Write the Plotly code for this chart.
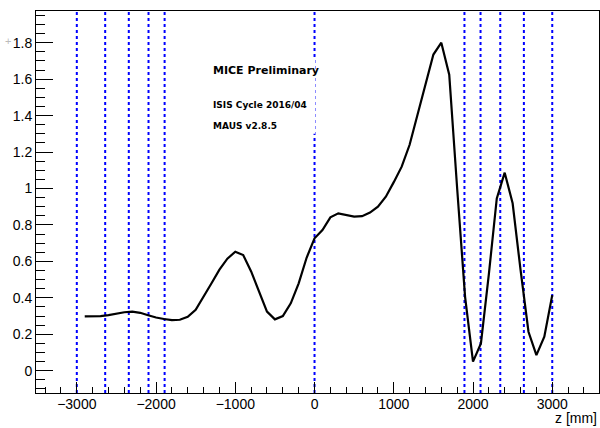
import plotly.graph_objects as go

# Curve data (z in mm, value)
z_vals = [-2900, -2800, -2700, -2600, -2500, -2400, -2300, -2200, -2100, -2000,
          -1900, -1800, -1700, -1600, -1500, -1400, -1300, -1200, -1100, -1000,
          -900, -800, -700, -600, -500, -400, -300, -200, -100, 0,
          100, 200, 300, 400, 500, 600, 700, 800, 900, 1000,
          1100, 1200, 1300, 1400, 1500, 1600, 1700, 1800, 1900, 2000,
          2100, 2200, 2300, 2400, 2500, 2600, 2700, 2800, 2900, 3000]
y_vals = [0.298, 0.298, 0.300, 0.305, 0.313, 0.321, 0.324, 0.318, 0.305, 0.292,
          0.284, 0.278, 0.280, 0.296, 0.335, 0.405, 0.480, 0.555, 0.615, 0.653,
          0.635, 0.545, 0.430, 0.325, 0.282, 0.300, 0.370, 0.480, 0.620, 0.727,
          0.772, 0.842, 0.864, 0.856, 0.846, 0.848, 0.868, 0.900, 0.955, 1.035,
          1.120, 1.240, 1.400, 1.570, 1.735, 1.800, 1.625, 1.000, 0.406, 0.050,
          0.150, 0.530, 0.946, 1.087, 0.919, 0.553, 0.214, 0.086, 0.187, 0.415]

# Positions of the vertical dashed markers (mm)
marker_z = [-3000, -2642, -2344, -2095, -1892, 0, 1892, 2095, 2344, 2642, 3000]

x_tickvals = [-3000, -2000, -1000, 0, 1000, 2000, 3000]
y_tickvals = [0, 0.2, 0.4, 0.6, 0.8, 1.0, 1.2, 1.4, 1.6, 1.8]
y_ticktext = ["0", "0.2", "0.4", "0.6", "0.8", "1", "1.2", "1.4", "1.6", "1.8"]

label_lines = ["MICE Preliminary", "ISIS Cycle 2016/04", "MAUS v2.8.5"]

fig = go.Figure()
fig.add_trace(go.Scatter(x=z_vals, y=y_vals, mode="lines",
                         line=dict(color="black", width=2.2),
                         showlegend=False, hoverinfo="skip"))

shapes = []
for zv in marker_z:
    shapes.append(dict(type="line", xref="x", yref="paper", x0=zv, x1=zv, y0=0, y1=1,
                       line=dict(color="#0000ff", width=2, dash="3px,3px"), layer="below"))
# white text pad covering the line
shapes.append(dict(type="rect", xref="x", yref="y", x0=-1400, x1=8, y0=1.30, y1=1.71,
                   fillcolor="white", line=dict(width=0), layer="below"))

annotations = [
    dict(x=-1310, y=1.647, xref="x", yref="y", text="<b>" + label_lines[0] + "</b>",
         showarrow=False, xanchor="left", yanchor="middle",
         font=dict(family="DejaVu Sans", size=11, color="black")),
    dict(x=-1310, y=1.458, xref="x", yref="y", text="<b>" + label_lines[1] + "</b>",
         showarrow=False, xanchor="left", yanchor="middle",
         font=dict(family="DejaVu Sans", size=9, color="black")),
    dict(x=-1310, y=1.343, xref="x", yref="y", text="<b>" + label_lines[2] + "</b>",
         showarrow=False, xanchor="left", yanchor="middle",
         font=dict(family="DejaVu Sans", size=9, color="black")),
    dict(x=1, y=0, xref="paper", yref="paper", text="z [mm]", showarrow=False,
         xanchor="right", yanchor="bottom", xshift=-1, yshift=-34, borderpad=0,
         font=dict(family="Liberation Sans", size=14, color="black")),
    dict(x=0, y=1, xref="paper", yref="paper", text="+", showarrow=False,
         xanchor="center", yanchor="middle", xshift=-28, yshift=-30,
         font=dict(family="Liberation Sans", size=11, color="#bbbbbb")),
]

fig.update_layout(
    width=600, height=428,
    margin=dict(l=36, r=1, t=11, b=35),
    paper_bgcolor="white", plot_bgcolor="white",
    shapes=shapes, annotations=annotations,
    font=dict(family="Liberation Sans", size=14, color="black"),
    xaxis=dict(range=[-3515, 3590], showgrid=False, zeroline=False,
               showline=True, linecolor="black", linewidth=1, mirror=True,
               ticks="inside", ticklen=11, tickwidth=1, tickcolor="black",
               ticklabelstandoff=-2,
               tickvals=x_tickvals, ticktext=[f"{v:d}".replace("-", "\u2212") for v in x_tickvals],
               minor=dict(dtick=200, tick0=0, ticks="inside", ticklen=6, tickcolor="black"),
               tickfont=dict(family="Liberation Sans", size=14)),
    yaxis=dict(range=[-0.122, 1.974], showgrid=False, zeroline=False,
               showline=True, linecolor="black", linewidth=1, mirror=True,
               ticks="inside", ticklen=17, tickwidth=1, tickcolor="black",
               tickvals=y_tickvals, ticktext=y_ticktext,
               minor=dict(dtick=0.05, tick0=0, ticks="inside", ticklen=9, tickcolor="black"),
               tickfont=dict(family="Liberation Sans", size=14)),
)

fig.write_html("out.html")
